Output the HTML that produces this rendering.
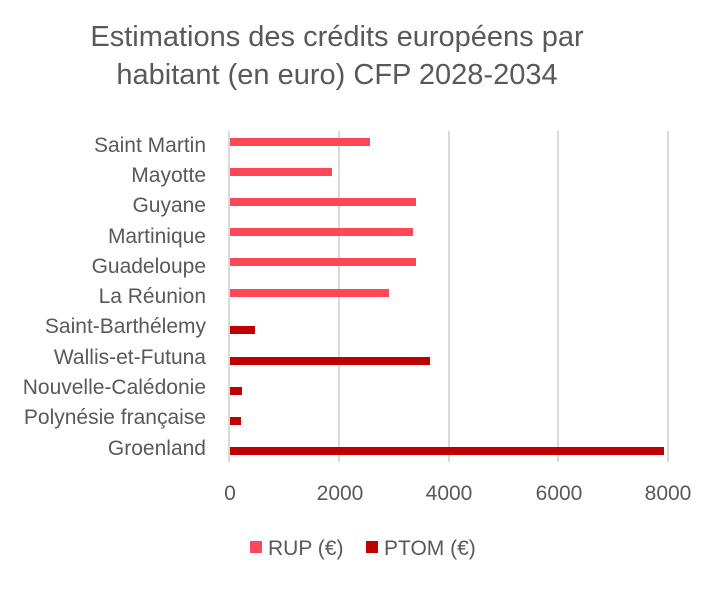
<!DOCTYPE html>
<html><head><meta charset="utf-8"><style>
body{margin:0;background:#fff;}
</style></head><body>
<svg width="720" height="584" xmlns="http://www.w3.org/2000/svg" font-family="Liberation Sans, sans-serif" fill="#595959">
<text x="337" y="46" font-size="29" text-anchor="middle">Estimations des crédits européens par</text>
<text x="337" y="84" font-size="29" text-anchor="middle">habitant (en euro) CFP 2028-2034</text>
<g stroke="#d9d9d9" stroke-width="2">
<line x1="229" y1="131" x2="229" y2="462"/>
<line x1="339" y1="131" x2="339" y2="462"/>
<line x1="449" y1="131" x2="449" y2="462"/>
<line x1="558" y1="131" x2="558" y2="462"/>
<line x1="668" y1="131" x2="668" y2="462"/>
</g>
<g fill="#ff4757">
<rect x="230" y="138" width="140" height="8"/>
<rect x="230" y="168" width="102" height="8"/>
<rect x="230" y="198" width="186" height="8"/>
<rect x="230" y="228" width="183" height="8"/>
<rect x="230" y="258" width="186" height="8"/>
<rect x="230" y="289" width="159" height="8"/>
</g>
<g fill="#c00000">
<rect x="230" y="326" width="25" height="8"/>
<rect x="230" y="357" width="200" height="8"/>
<rect x="230" y="387" width="12" height="8"/>
<rect x="230" y="417" width="11" height="8"/>
<rect x="230" y="447" width="434" height="8"/>
</g>
<g font-size="21" text-anchor="end">
<text x="206" y="152">Saint Martin</text>
<text x="206" y="182">Mayotte</text>
<text x="206" y="212">Guyane</text>
<text x="206" y="243">Martinique</text>
<text x="206" y="273">Guadeloupe</text>
<text x="206" y="303">La Réunion</text>
<text x="206" y="333">Saint-Barthélemy</text>
<text x="206" y="364">Wallis-et-Futuna</text>
<text x="206" y="394">Nouvelle-Calédonie</text>
<text x="206" y="424">Polynésie française</text>
<text x="206" y="455">Groenland</text>
</g>
<g font-size="21" text-anchor="middle">
<text x="230" y="500">0</text>
<text x="340" y="500">2000</text>
<text x="449" y="500">4000</text>
<text x="559" y="500">6000</text>
<text x="668" y="500">8000</text>
</g>
<rect x="250" y="541" width="12" height="12" fill="#ff4757"/>
<text x="268" y="555" font-size="21">RUP (€)</text>
<rect x="366" y="541" width="12" height="12" fill="#c00000"/>
<text x="384" y="555" font-size="21">PTOM (€)</text>
</svg>
</body></html>
